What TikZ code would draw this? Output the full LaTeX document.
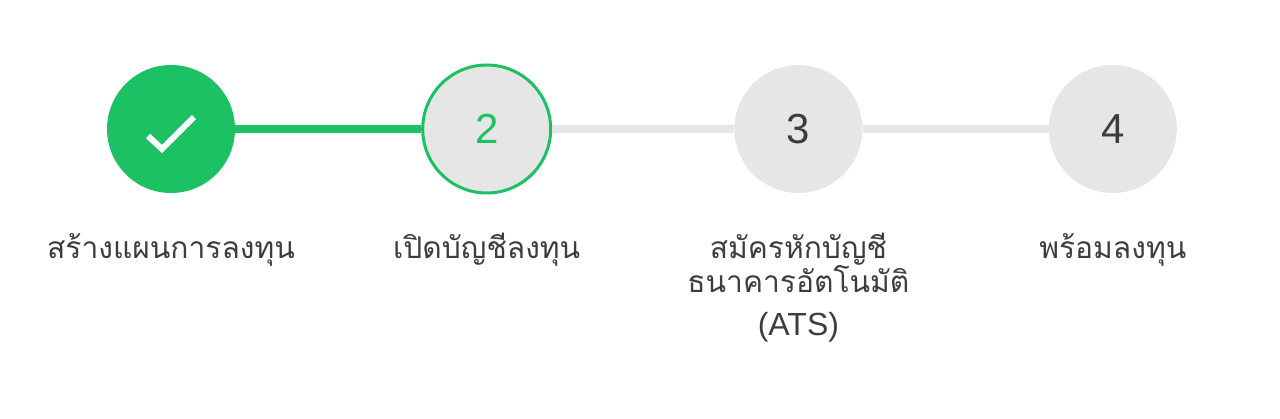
\documentclass[tikz,border=0pt]{standalone}
\usepackage{fontspec}
\setmainfont{Liberation Sans}
\newfontfamily\thaifont[Script=Thai]{Loma}
\usetikzlibrary{positioning}
\definecolor{stgreen}{HTML}{1BC162}
\definecolor{stgray}{HTML}{E6E6E6}
\definecolor{sttext}{HTML}{3D3D3D}

\begin{document}
\begin{tikzpicture}[x=1pt, y=-1pt, node distance={186pt},
    main/.style = {circle, minimum size=128pt, inner sep=0pt, fill=stgray, text=sttext, font=\fontsize{42}{46}\selectfont},
    done/.style = {main, fill=stgreen},
    current/.style = {main, draw=stgreen, line width=3pt, text=stgreen},
    stlabel/.style = {align=center, text=sttext, font=\thaifont\fontsize{30}{34}\selectfont},
    track/.style = {line width=8pt, stgray},
    tick/.style = {line width=6pt, white}]
    \useasboundingbox (0,0) rectangle (1280,418);

    \node[done] (s1) at (171,129) {};
    \node[current] (s2) [right=of s1] {2};
    \node[main] (s3) [right=182pt of s2] {3};
    \node[main] (s4) [right=of s3] {4};

    \draw[track, stgreen] (s1) -- (s2);
    \draw[track] (s2) -- (s3);
    \draw[track] (s3) -- (s4);

    \draw[tick] ([shift={(-23,7)}]s1.center) -- ([shift={(-9,20)}]s1.center) -- ([shift={(23,-12)}]s1.center);

    \node[stlabel] (l1) [below=129pt of s1.center, anchor=base] {สร้างแผนการลงทุน};
    \node[stlabel] (l2) [below=129pt of s2.center, anchor=base] {เปิดบัญชีลงทุน};
    % base of a multi-line node is its last line
    \node[stlabel] (l3) [below=206pt of s3.center, anchor=base] {สมัครหักบัญชี\\ธนาคารอัตโนมัติ\\[9pt]{\rmfamily\fontsize{32}{34}\selectfont (ATS)}};
    \node[stlabel] (l4) [below=129pt of s4.center, anchor=base] {พร้อมลงทุน};

    \end{tikzpicture}
\end{document}
